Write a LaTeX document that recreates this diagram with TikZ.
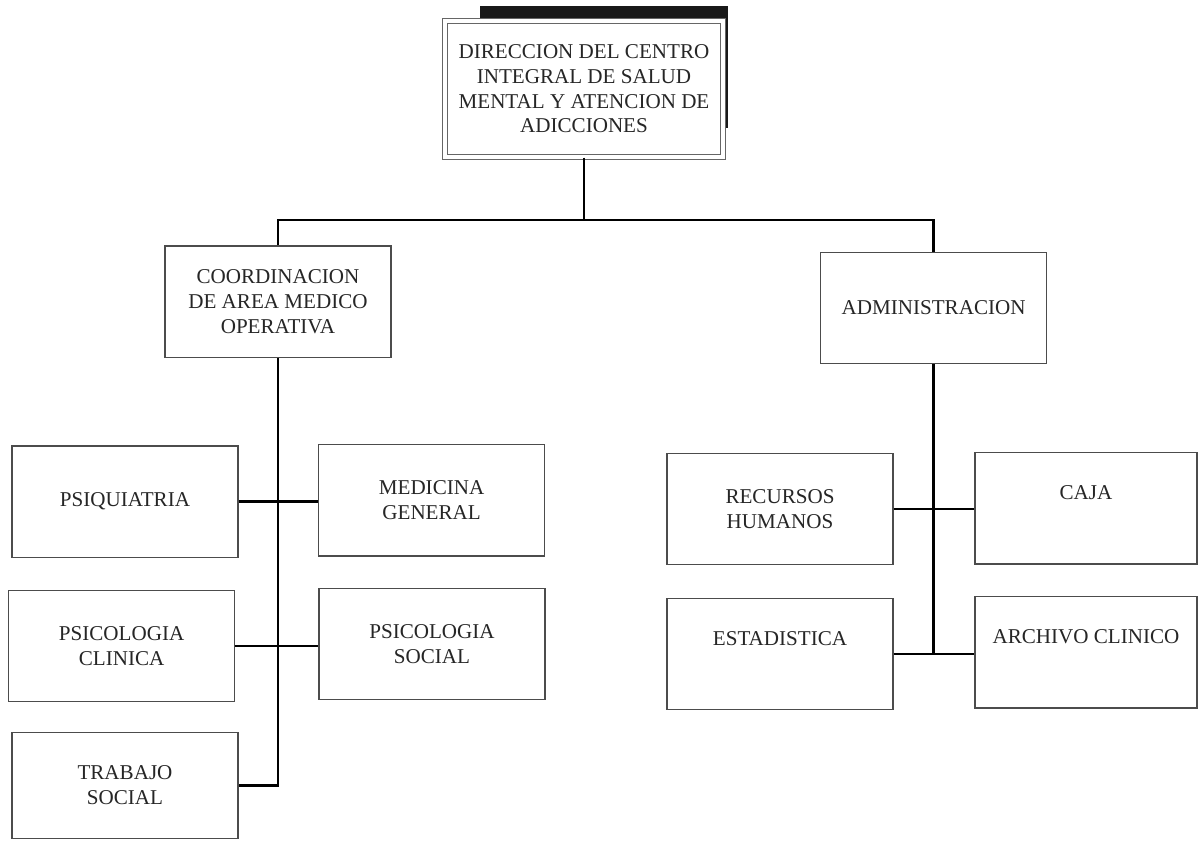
\documentclass[tikz,border=0pt]{standalone}
\usepackage{fontspec}
\setmainfont{Liberation Serif}
\usepackage{tikz}
\usetikzlibrary{positioning,calc,backgrounds}

\begin{document}
\begin{tikzpicture}[
    unitbox/.style={rectangle, draw=black!70, line width=0.8pt, fill=white,
        minimum width=5.65cm, minimum height=2.78cm, align=center, inner sep=2pt,
        text=black!85, font=\fontsize{15}{17.5}\selectfont},
    dirbox/.style={unitbox, draw=black!60, double=white, double distance=2.2pt,
        line width=0.7pt, minimum width=6.95cm, minimum height=3.4cm},
    link/.style={draw=black, line width=2pt}
]
\useasboundingbox (0,0) rectangle (29.95,-21);
% Direction with its shadow
\node[dirbox] (dir) at (14.6,-2.225) {DIRECCION DEL CENTRO\\INTEGRAL DE SALUD\\MENTAL Y ATENCION DE\\ADICCIONES};
\begin{scope}[on background layer]
\fill[black!90] ($(dir.north west)+(0.875,0.375)$) rectangle ($(dir.south east)+(0.125,0.75)$);
\end{scope}
% Second level
\node[unitbox] (coord) at (6.95,-7.54) {COORDINACION\\DE AREA MEDICO\\OPERATIVA};
\node[unitbox] (admin) at (23.34,-7.7) {ADMINISTRACION};
% Medical area
\node[unitbox] (psiq) at (3.125,-12.54) {PSIQUIATRIA};
\node[unitbox] (medic) at (10.79,-12.51) {MEDICINA\\GENERAL};
\node[unitbox] (psicl) at (3.04,-16.15) {PSICOLOGIA\\CLINICA};
\node[unitbox] (psoc) at (10.8,-16.1) {PSICOLOGIA\\SOCIAL};
\node[unitbox, minimum height=2.65cm] (trab) at (3.125,-19.63) {TRABAJO\\SOCIAL};
% Administration area
\node[unitbox] (rrhh) at (19.5,-12.725) {RECURSOS\\HUMANOS};
\node[unitbox, minimum width=5.55cm] (caja) at (27.15,-12.71) {CAJA\\\strut};
\node[unitbox] (estad) at (19.5,-16.35) {ESTADISTICA\\\strut};
\node[unitbox, minimum width=5.55cm] (arch) at (27.15,-16.31) {ARCHIVO CLINICO\\\strut};
% Connectors
\coordinate (jt) at (14.6,-5.5);
\draw[link] (dir.south) -- (jt);
\draw[link] (coord.north) |- (jt) -| (admin.north);
\draw[link] (coord.south) |- (trab.east);
\draw[link] (psiq.east) -- (psiq.east -| medic.west);
\draw[link] (psicl.east) -- (psicl.east -| psoc.west);
\draw[link] (admin.south) -- (admin.south |- estad.east);
\draw[link] (rrhh.east) -- (rrhh.east -| caja.west);
\draw[link] (estad.east) -- (estad.east -| arch.west);
\end{tikzpicture}
\end{document}
